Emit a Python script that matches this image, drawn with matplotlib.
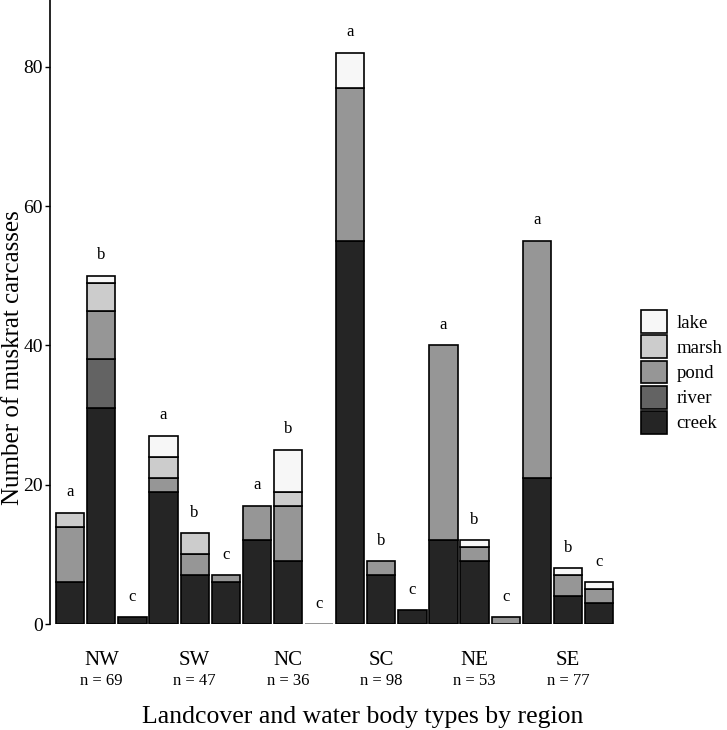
import numpy as np
import matplotlib.pyplot as plt
from matplotlib.patches import Patch

plt.rcParams['font.family'] = ['Liberation Serif', 'DejaVu Serif']

##========== Data ==========##
regions = ['NW', 'SW', 'NC', 'SC', 'NE', 'SE']
n_counts = [69, 47, 36, 98, 53, 77]
letters = ['a', 'b', 'c'] * 6

# three bars per region, stacked bottom -> top: creek, river, pond, marsh, lake
creek = [6, 31, 1, 19, 7, 6, 12, 9, 0, 55, 7, 2, 12, 9, 0, 21, 4, 3]
river = [0, 7, 0, 0, 0, 0, 0, 0, 0, 0, 0, 0, 0, 0, 0, 0, 0, 0]
pond = [8, 7, 0, 2, 3, 1, 5, 8, 0, 22, 2, 0, 28, 2, 1, 34, 3, 2]
marsh = [2, 4, 0, 3, 3, 0, 0, 2, 0, 0, 0, 0, 0, 0, 0, 0, 0, 0]
lake = [0, 1, 0, 3, 0, 0, 0, 6, 0, 5, 0, 0, 0, 1, 0, 0, 1, 1]

layers = [('creek', creek, '#252525'), ('river', river, '#636363'),
          ('pond', pond, '#969696'), ('marsh', marsh, '#cccccc'),
          ('lake', lake, '#f7f7f7')]

##========== Plot ==========##
fig = plt.figure(figsize=(7.27, 7.3), dpi=100)
ax = fig.add_axes([0.0688, 0.1452, 0.783, 0.8548])

x = np.arange(len(creek))
bottom = np.zeros(len(creek))
for name, vals, col in layers:
    vals = np.array(vals, dtype=float)
    mask = vals > 0
    ax.bar(x[mask], vals[mask], bottom=bottom[mask], width=0.91, color=col,
           edgecolor='black', linewidth=1.2)
    bottom += vals

# zero-height bar (NC, third) shown as a thin line
zero = bottom == 0
ax.bar(x[zero], np.full(zero.sum(), 0.15), width=0.91, color='#969696',
       edgecolor='none')

for xi, top, let in zip(x, bottom, letters):
    ax.annotate(let, (xi, top), xytext=(0, 9), textcoords='offset points',
                ha='center', va='bottom', fontsize=12)

ax.set_xlim(-0.65, 17.65)
ax.set_ylim(0, 89.6)
ax.set_yticks([0, 20, 40, 60, 80])
ax.tick_params(axis='y', labelsize=14, length=3.6, width=1, pad=1.5)
ax.set_xticks([])
for s in ['top', 'right', 'bottom']:
    ax.spines[s].set_visible(False)
ax.spines['left'].set_linewidth(1.2)

centers = np.arange(len(regions)) * 3 + 1
for c, reg, n in zip(centers, regions, n_counts):
    ax.text(c, -0.0577, reg, transform=ax.get_xaxis_transform(),
            ha='center', va='center', fontsize=15)
    ax.text(c, -0.0913, f'n = {n}', transform=ax.get_xaxis_transform(),
            ha='center', va='center', fontsize=12)

fig.text(13 / 727, 1 - 358 / 730, 'Number of muskrat carcasses',
         rotation=90, ha='center', va='center', fontsize=18)
fig.text(0.499, 1 - 717 / 730, 'Landcover and water body types by region',
         ha='center', va='center', fontsize=18.5)

handles = [Patch(facecolor=col, edgecolor='black', linewidth=1.2, label=name)
           for name, vals, col in layers[::-1]]
fig.legend(handles=handles, loc='center left',
           bbox_to_anchor=(641 / 727, 1 - 372 / 730), frameon=False,
           fontsize=13.5, handlelength=1.4, handleheight=1.5,
           labelspacing=0.12, handletextpad=0.5, borderpad=0,
           borderaxespad=0)

fig.savefig('out.png', dpi=100)
